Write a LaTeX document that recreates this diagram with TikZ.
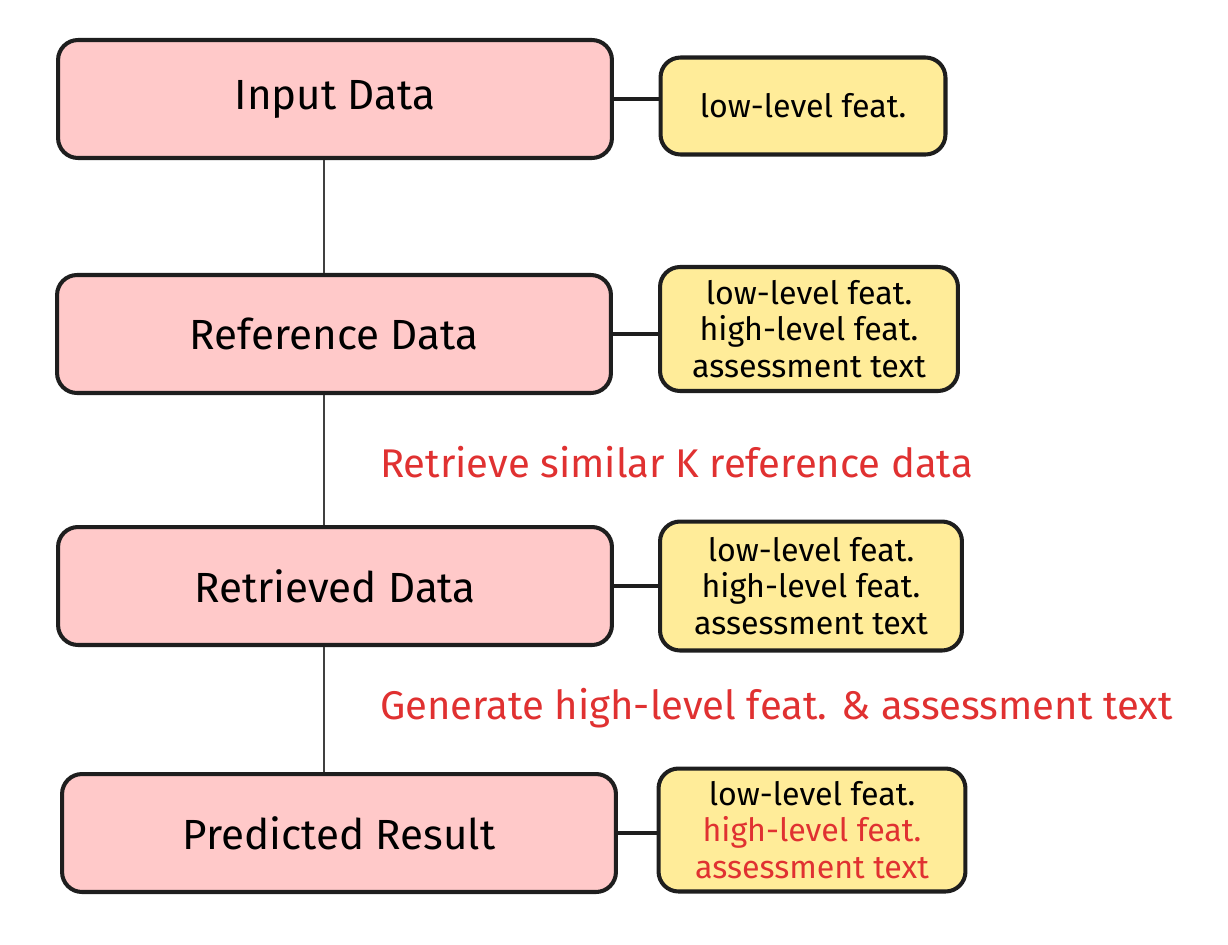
\documentclass[tikz,border=0pt]{standalone}
\usepackage{fontspec}
\setmainfont{Fira Sans}
\usepackage{tikz}
\usetikzlibrary{positioning}
\definecolor{stagepink}{HTML}{FFC9C9}
\definecolor{featyellow}{HTML}{FFEC99}
\definecolor{noteRed}{HTML}{E03131}
\definecolor{ink}{HTML}{1E1E1E}

\begin{document}
\begin{tikzpicture}[x=0.02cm, y=-0.02cm,
		stagebox/.style={draw=ink, line width=2.3pt, fill=stagepink, rounded corners=0.4cm,
			minimum width=11.08cm, minimum height=2.36cm, font=\fontsize{24}{28}\selectfont},
		featbox/.style={draw=ink, line width=2.3pt, fill=featyellow, rounded corners=0.4cm,
			align=center, inner sep=0pt, font=\fontsize{18.3}{20.7}\selectfont},
		note/.style={text=noteRed, font=\fontsize{22.8}{26}\selectfont, anchor=west}]
			\useasboundingbox (0,0) rectangle (1228,944);
			% stages
			\node[stagebox] (inp) at (335,99) {Input Data};
			\node[stagebox] (ref) at (334,334) {Reference Data};
			\node[stagebox] (ret) at (335,586) {Retrieved Data};
			\node[stagebox] (pred) at (339,833) {Predicted Result};
			% features
			\node[featbox, minimum width=5.7cm, minimum height=1.94cm] (inpf) at (803,106) {low-level feat.};
			\node[featbox, minimum width=5.96cm, minimum height=2.48cm] (reff) at (809,329)
				{low-level feat.\\high-level feat.\\assessment text};
			\node[featbox, minimum width=6.04cm, minimum height=2.58cm] (retf) at (811,586)
				{low-level feat.\\high-level feat.\\assessment text};
			\node[featbox, minimum width=6.14cm, minimum height=2.46cm] (predf) at (812,830)
				{low-level feat.\\\textcolor{noteRed}{high-level feat.}\\\textcolor{noteRed}{assessment text}};
			% spine
			\coordinate (spine) at (324,0);
			\draw[line width=0.9pt, ink!85] (spine |- inp.south) -- (spine |- ref.north);
			\draw[line width=0.9pt, ink!85] (spine |- ref.south) -- (spine |- ret.north);
			\draw[line width=0.9pt, ink!85] (spine |- ret.south) -- (spine |- pred.north);
			% links to features
			\draw[line width=1.9pt, ink] (inp.east) -- (inp.east -| inpf.west);
			\draw[line width=1.9pt, ink] (ref.east) -- (ref.east -| reff.west);
			\draw[line width=1.9pt, ink] (ret.east) -- (ret.east -| retf.west);
			\draw[line width=1.9pt, ink] (pred.east) -- (pred.east -| predf.west);
			% notes
			\node[note] (retrieve) at (374,462) {Retrieve similar K reference data};
			\node[note] (generate) at (374,708) {Generate high-level feat. \& assessment text};
		\end{tikzpicture}
\end{document}
